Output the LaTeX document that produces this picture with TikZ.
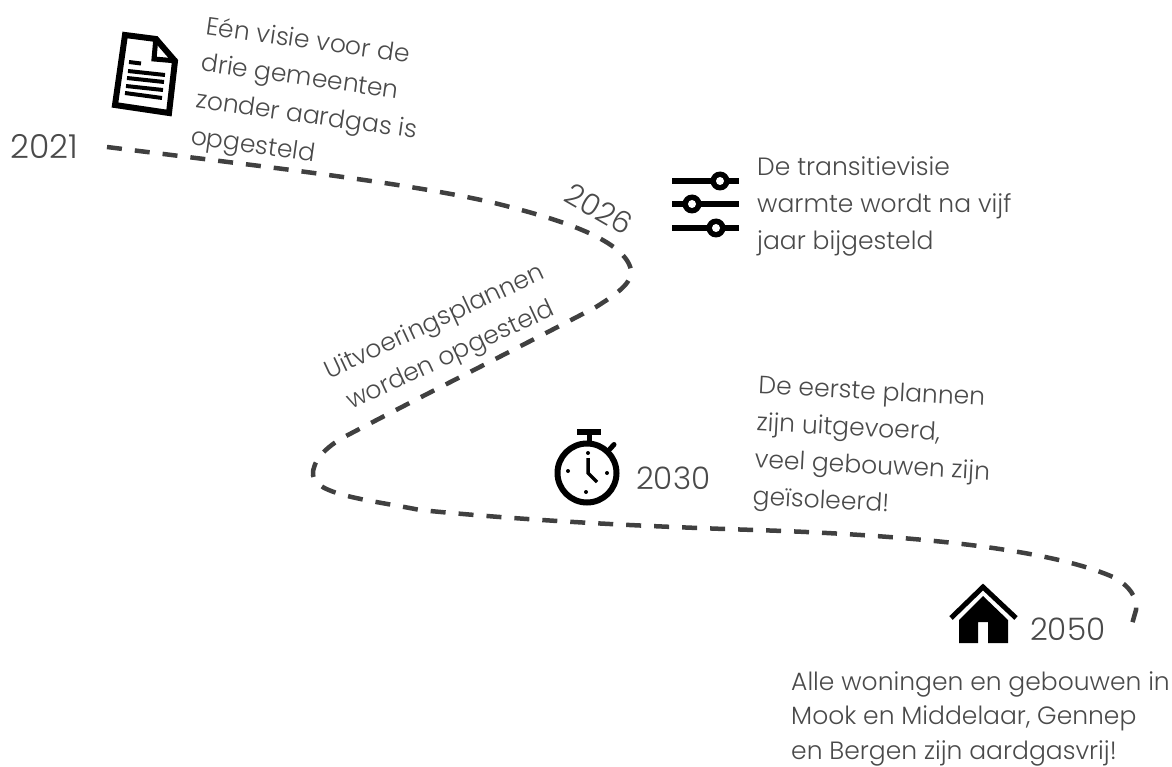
\documentclass[tikz,border=0pt]{standalone}
\usepackage{fontspec}
\setmainfont{Poppins}[UprightFont={* Light}]
\definecolor{ink}{HTML}{4A4A4A}
\definecolor{dashc}{HTML}{404040}
\tikzset{
  lbl/.style={text=ink,font=\fontsize{#1}{#1}\selectfont,inner sep=0pt},
  para/.style={text=ink,align=left,inner sep=0pt,font=\fontsize{25}{37}\selectfont},
  route/.style={draw=dashc,line width=4.5pt,dash pattern=on 15pt off 13pt},
  icon/.style={draw=black,line width=6pt},
}
\begin{document}
\begin{tikzpicture}[x=1pt,y=-1pt]
\useasboundingbox (0,0) rectangle (1172,767);
% route
\coordinate (p0) at (107,147);
\coordinate (q1) at (510,207);
\coordinate (p1) at (631,270);
\coordinate (a) at (596,307);
\coordinate (b) at (346,436);
\coordinate (p2) at (313,475);
\coordinate (q2) at (420,510);
\coordinate (q3) at (755,530);
\coordinate (q4) at (1113,577);
\coordinate (p4) at (1136,610);
\coordinate (p5) at (1130,631);
\draw[route] (p0) .. controls (250,165) and (430,185) .. (q1)
  .. controls (560,220) and (625,240) .. (p1)
  .. controls (633,283) and (615,295) .. (a)
  .. controls (510,352) and (430,392) .. (b)
  .. controls (325,447) and (312,462) .. (p2)
  .. controls (315,495) and (370,500) .. (q2)
  .. controls (520,520) and (630,526) .. (q3)
  .. controls (880,534) and (1040,545) .. (q4)
  .. controls (1130,586) and (1137,597) .. (p4)
  -- (p5);
% labels
\node[lbl=33,anchor=west] (y21) at (10,147) {2021};
\node[lbl=30,rotate=-30] (y26) at (599,209) {2026};
\node[lbl=31,anchor=west] (y30) at (636,478) {2030};
\node[lbl=31,anchor=west] (y50) at (1030,629) {2050};
\node[para,rotate=-8,anchor=north west] (t1) at (208,15) {Eén visie voor de\\drie gemeenten\\zonder aardgas is\\opgesteld};
\node[para,anchor=north west] (t2) at (757,157) {De transitievisie\\warmte wordt na vijf\\jaar bijgesteld};
\node[para,align=center,rotate=25] (t3) at (443,340) {Uitvoeringsplannen\\worden opgesteld};
\node[para,anchor=north west,rotate=-3] (t4) at (759,375) {De eerste plannen\\zijn uitgevoerd,\\veel gebouwen zijn\\geïsoleerd!};
\node[para,anchor=north west,font=\fontsize{25}{34.5}\selectfont] (t5) at (791,671) {Alle woningen en gebouwen in\\Mook en Middelaar, Gennep\\en Bergen zijn aardgasvrij!};
% document icon
\draw[icon,miter limit=10,line join=miter] (125,35) -- (156,39) -- (175,61) -- (169,113) -- (115,105) -- cycle;
\draw[icon,line width=5pt] (156,37) -- (154,59) -- (177,61);
\foreach \a/\b/\c/\d in {129/62/141/63.5, 128/71/165/75, 127/78/164/82, 126/86/163/90, 125/93/162/98}{
  \draw[black,line width=4pt] (\a,\b) -- (\c,\d);
}
% sliders
\foreach \yy/\cx in {181/720,204/692,228/716}{
  \draw[black,line width=6pt] (672,\yy) -- (739,\yy);
  \fill[black] (\cx,\yy) circle (9.5);
  \fill[white] (\cx,\yy) circle (4);
}
% stopwatch
\draw[black,line width=6pt] (587,473) circle (29.5);
\draw[black,line width=6pt] (577,432) -- (601,432);
\draw[black,line width=5pt] (589,433) -- (589,443);
\draw[black,line width=5pt,line cap=round] (610,449) -- (614,444.5);
\draw[black,line width=3.5pt] (588,458) -- (588,473) -- (597,482);
\fill[black] (588,453) circle (2) (607,473) circle (2) (586,492) circle (2) (568,471) circle (2);
% house
\draw[black,line width=5pt] (951,618) -- (983,587) -- (1016,618);
\fill[black] (983,596) -- (1008,620) -- (1008,643) -- (988,643) -- (988,622) -- (978,622) -- (978,643) -- (959,643) -- (959,620) -- cycle;
\end{tikzpicture}
\end{document}
